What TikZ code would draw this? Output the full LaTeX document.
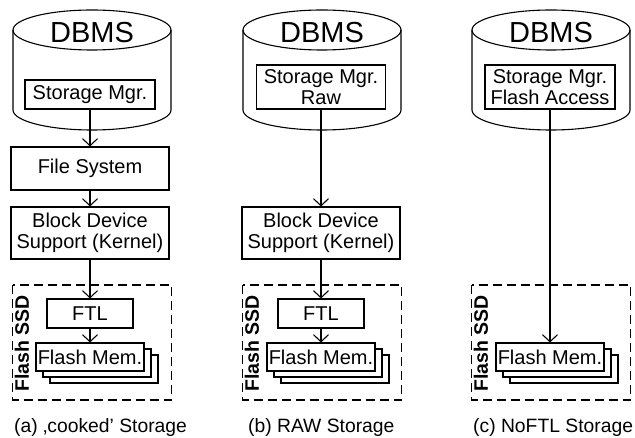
\documentclass[tikz,border=0pt]{standalone}
\usepackage{fontspec}
\setmainfont{Liberation Sans}
\usetikzlibrary{arrows.meta}

\tikzset{
  >={Straight Barb[length=7pt,width=15pt]},
  box/.style={draw,fill=white,line width=1.1pt,inner sep=1pt,align=center,
    font=\fontsize{20}{20.5}\selectfont},
  flow/.style={->,line width=1.1pt},
  ssdframe/.style={line width=1.1pt,dash pattern=on 9pt off 5pt},
  ssdlabel/.style={rotate=90,inner sep=0pt,font=\fontsize{19.5}{20}\selectfont\bfseries},
  caption/.style={anchor=west,inner sep=0pt,font=\fontsize{19.3}{20}\selectfont},
}

\begin{document}
\begin{tikzpicture}[x=1pt,y=-1pt]
    \useasboundingbox (0,0) rectangle (635,438);
    % DBMS cylinders and Flash SSD frames
    \foreach \cx in {92,322,551}{
        \draw[line width=1.1pt] (\cx,30) ellipse [x radius=79pt,y radius=20pt];
        \draw[line width=1.1pt] (\cx-79,30)--(\cx-79,110) arc[start angle=180,end angle=360,x radius=79pt,y radius=20pt]--(\cx+79,30);
        \draw[ssdframe] (\cx-79.5,285) rectangle (\cx+79.5,400);
    }
    \node[inner sep=0pt,font=\fontsize{29}{29}\selectfont] (dbmsA) at (92,33) {DBMS};
    \node[inner sep=0pt,font=\fontsize{29}{29}\selectfont] (dbmsB) at (322,33) {DBMS};
    \node[inner sep=0pt,font=\fontsize{29}{29}\selectfont] (dbmsC) at (551,33) {DBMS};
    \node[ssdlabel] (ssdA) at (22,343.5) {Flash SSD};
    \node[ssdlabel] (ssdB) at (252,343.5) {Flash SSD};
    \node[ssdlabel] (ssdC) at (481,343.5) {Flash SSD};

    % (a) cooked storage
    \node[box,minimum width=130pt,minimum height=29pt] (stoA) at (90,94.5) {Storage Mgr.};
    \node[box,minimum width=158pt,minimum height=43pt] (fsA) at (90,168.5) {File System};
    \node[box,minimum width=158pt,minimum height=52pt] (blkA) at (90,233) {Block Device\\Support (Kernel)};
    \node[box,minimum width=86pt,minimum height=29pt] (ftlA) at (90,313.5) {FTL};
    \node[box,minimum width=108pt,minimum height=28pt] (memA3) at (104,369) {};
    \node[box,minimum width=108pt,minimum height=28pt] (memA2) at (97,363) {};
    \node[box,minimum width=108pt,minimum height=28pt] (memA1) at (90,357) {Flash Mem.};
    \draw[flow] (stoA)--(fsA);
    \draw[flow] (fsA)--(blkA);
    \draw[flow] (blkA)--(ftlA);
    \draw[flow] (ftlA)--(memA1);
    \node[caption] (capA) at (14,428) {(a) ‚cooked’ Storage};

    % (b) raw storage
    \node[box,minimum width=129pt,minimum height=44pt] (stoB) at (321,87) {Storage Mgr.\\Raw};
    \node[box,minimum width=158pt,minimum height=52pt] (blkB) at (321,233) {Block Device\\Support (Kernel)};
    \node[box,minimum width=86pt,minimum height=29pt] (ftlB) at (321,313.5) {FTL};
    \node[box,minimum width=108pt,minimum height=28pt] (memB3) at (335,369) {};
    \node[box,minimum width=108pt,minimum height=28pt] (memB2) at (328,363) {};
    \node[box,minimum width=108pt,minimum height=28pt] (memB1) at (321,357) {Flash Mem.};
    \draw[flow] (stoB)--(blkB);
    \draw[flow] (blkB)--(ftlB);
    \draw[flow] (ftlB)--(memB1);
    \node[caption] (capB) at (248,428) {(b) RAW Storage};

    % (c) NoFTL storage
    \node[box,minimum width=130pt,minimum height=44pt] (stoC) at (550,87) {Storage Mgr.\\Flash Access};
    \node[box,minimum width=108pt,minimum height=28pt] (memC3) at (564,369) {};
    \node[box,minimum width=108pt,minimum height=28pt] (memC2) at (557,363) {};
    \node[box,minimum width=108pt,minimum height=28pt] (memC1) at (550,357) {Flash Mem.};
    \draw[flow] (stoC)--(memC1);
    \node[caption] (capC) at (473,428) {(c) NoFTL Storage};
\end{tikzpicture}
\end{document}
